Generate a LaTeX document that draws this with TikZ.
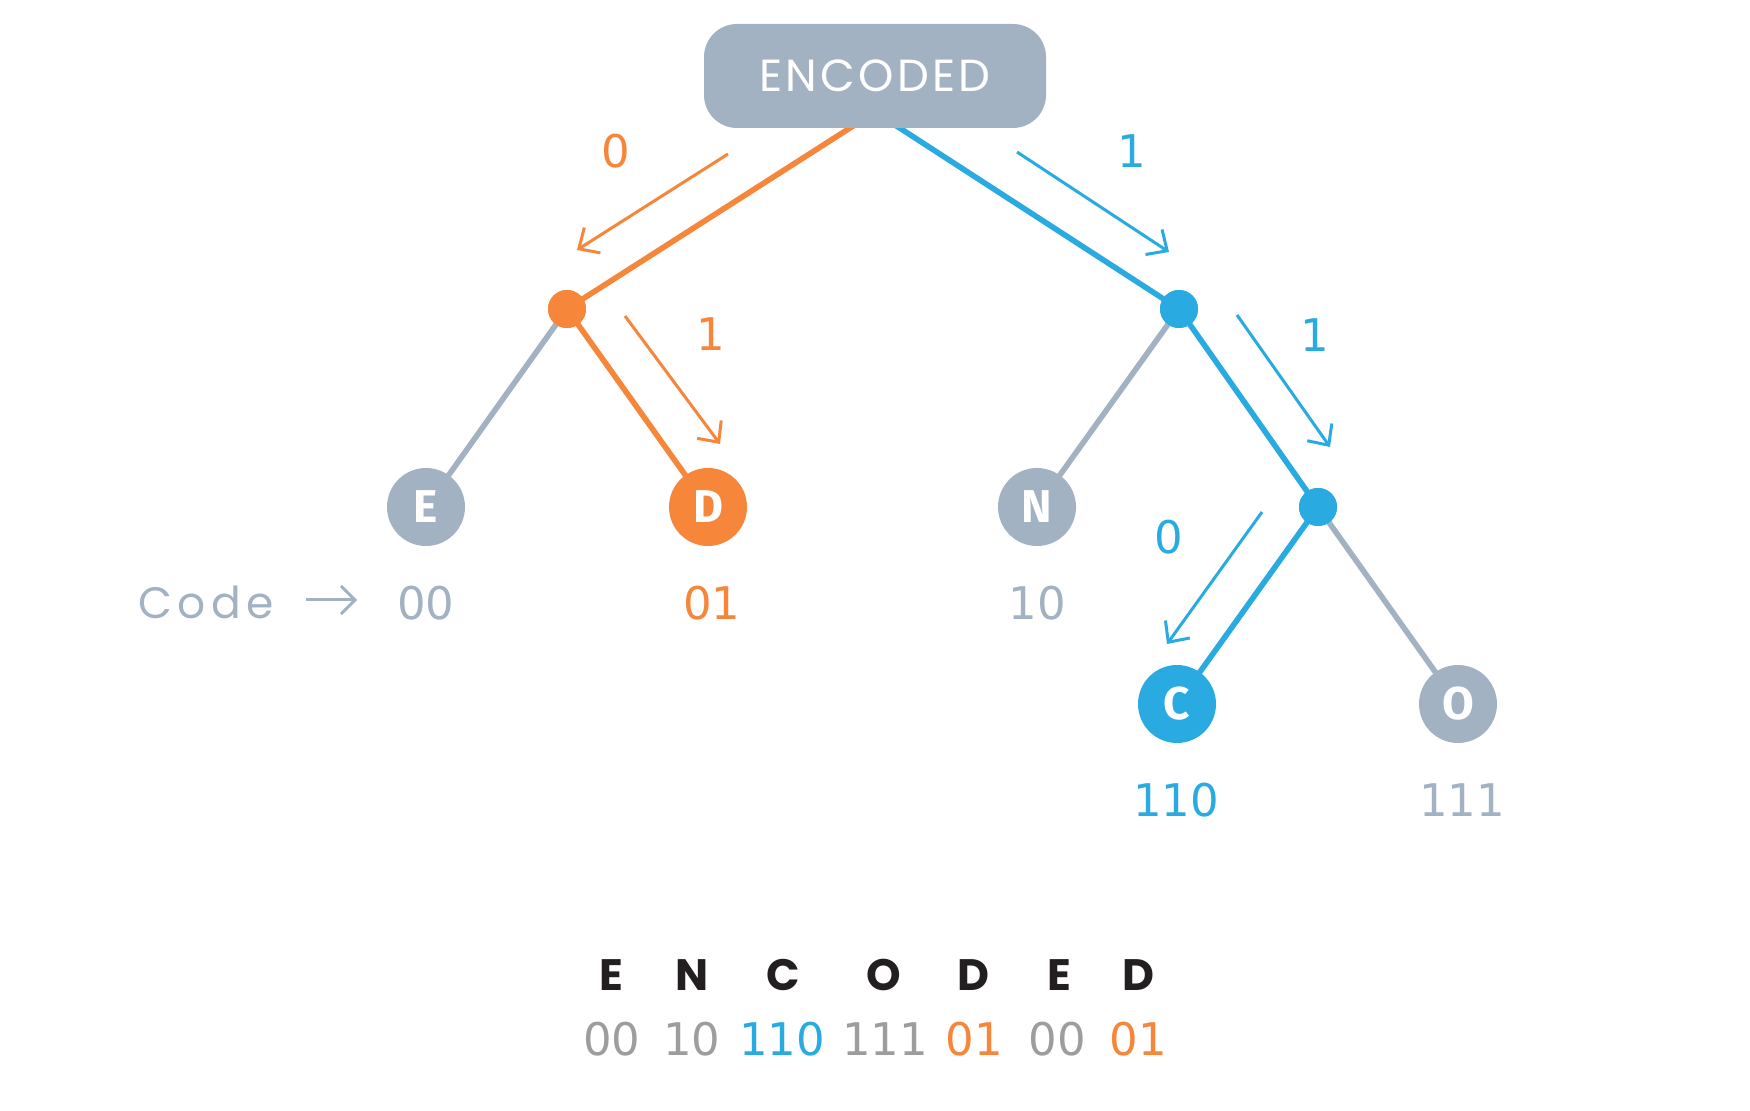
\documentclass[tikz,border=0pt]{standalone}
\usepackage{fontspec}
\setmainfont{Poppins}
\newfontfamily\digitfont{DejaVu Sans}
\newfontfamily\letterfont{Fira Sans}
\usetikzlibrary{arrows.meta}
\definecolor{cgray}{HTML}{A2B2C3}
\definecolor{corange}{HTML}{F5863A}
\definecolor{cblue}{HTML}{29ABE2}
\definecolor{cneutral}{HTML}{9D9D9D}
\definecolor{cdark}{HTML}{231F20}
\begin{document}
\begin{tikzpicture}[x=0.5pt,y=-0.5pt,
  leaf/.style={circle, minimum size=39pt, inner sep=0pt, text=white,
    font=\letterfont\bfseries\fontsize{23}{23}\selectfont},
  dot/.style={circle, minimum size=19pt, inner sep=0pt},
  edgeline/.style={line width=2.8pt},
  thinarrow/.style={line width=1.5pt, -{Straight Barb[length=8pt,width=15pt]}},
  codelbl/.style={font=\digitfont\fontsize{22.5}{22.5}\selectfont, inner sep=0pt},
  bitlbl/.style={font=\digitfont\fontsize{22.5}{22.5}\selectfont, inner sep=0pt},
  wordlbl/.style={font=\bfseries\fontsize{22}{22}\selectfont, text=cdark, inner sep=0pt},
]
\useasboundingbox (0,0) rectangle (1750,1111);

% positions
\coordinate (rj) at (875,112);
\node[dot, fill=corange] (L) at (567,309) {};
\node[dot, fill=cblue] (R) at (1179,309) {};
\node[dot, fill=cblue] (RR) at (1318,507) {};

% edges
\draw[edgeline, corange] (rj) -- (L.center);
\draw[edgeline, cblue] (rj) -- (R.center);
\draw[edgeline, cgray] (L.center) -- (426,507) coordinate (eE);
\draw[edgeline, corange] (L.center) -- (708,507) coordinate (eD);
\draw[edgeline, cgray] (R.center) -- (1037,507) coordinate (eN);
\draw[edgeline, cblue] (R.center) -- (RR.center);
\draw[edgeline, cblue] (RR.center) -- (1177,704) coordinate (eC);
\draw[edgeline, cgray] (RR.center) -- (1458,704) coordinate (eO);

% redraw dots on top
\node[dot, fill=corange] at (L) {};
\node[dot, fill=cblue] at (R) {};
\node[dot, fill=cblue] at (RR) {};

% root box
\node[fill=cgray, rounded corners=16.5pt, minimum width=171pt, minimum height=52pt,
  text=white, font=\fontsize{22.5}{22.5}\selectfont\addfontfeatures{LetterSpace=7}] (root) at (875,76) {ENCODED};

% leaves
\node[leaf, fill=cgray] (E) at (eE) {E};
\node[leaf, fill=corange] (D) at (eD) {D};
\node[leaf, fill=cgray] (N) at (eN) {N};
\node[leaf, fill=cblue] (C) at (eC) {C};
\node[leaf, fill=cgray] (O) at (eO) {O};

% direction arrows
\coordinate (a1s) at (728,154); \coordinate (a1e) at (577,250);
\draw[thinarrow, corange] (a1s) -- (a1e);
\node[bitlbl, text=corange] (b1) at (616,151) {0};
\coordinate (a2s) at (625,316); \coordinate (a2e) at (720,444);
\draw[thinarrow, corange] (a2s) -- (a2e);
\node[bitlbl, text=corange] (b2) at (711,334) {1};
\coordinate (a3s) at (1017,152); \coordinate (a3e) at (1169,252);
\draw[thinarrow, cblue] (a3s) -- (a3e);
\node[bitlbl, text=cblue] (b3) at (1132,151) {1};
\coordinate (a4s) at (1237,315); \coordinate (a4e) at (1330,447);
\draw[thinarrow, cblue] (a4s) -- (a4e);
\node[bitlbl, text=cblue] (b4) at (1315,335) {1};
\coordinate (a5s) at (1262,512); \coordinate (a5e) at (1167,644);
\draw[thinarrow, cblue] (a5s) -- (a5e);
\node[bitlbl, text=cblue] (b5) at (1169,537) {0};

% code labels
\node[font=\fontsize{22}{22}\selectfont\addfontfeatures{LetterSpace=12}, text=cgray, inner sep=0pt] (codeword) at (206,602) {Code};
\coordinate (cas) at (306,600); \coordinate (cae) at (357,600);
\draw[line width=1.5pt, cgray, -{Straight Barb[length=7pt,width=14pt]}] (cas) -- (cae);
\node[codelbl, text=cgray] (cE) at (426,603) {00};
\node[codelbl, text=corange] (cD) at (712,603) {01};
\node[codelbl, text=cgray] (cN) at (1037,603) {10};
\node[codelbl, text=cblue] (cC) at (1176,800) {110};
\node[codelbl, text=cgray] (cO) at (1462,800) {111};

% bottom word
\node[wordlbl] (w1) at (611,975) {E};
\node[wordlbl] (w2) at (692,975) {N};
\node[wordlbl] (w3) at (783,975) {C};
\node[wordlbl] (w4) at (884,975) {O};
\node[wordlbl] (w5) at (973,975) {D};
\node[wordlbl] (w6) at (1059,975) {E};
\node[wordlbl] (w7) at (1138,975) {D};

\node[codelbl, text=cneutral] (k1) at (612,1039) {00};
\node[codelbl, text=cneutral] (k2) at (692,1039) {10};
\node[codelbl, text=cblue] (k3) at (782,1039) {110};
\node[codelbl, text=cneutral] (k4) at (885,1039) {111};
\node[codelbl, text=corange] (k5) at (974,1039) {01};
\node[codelbl, text=cneutral] (k6) at (1057,1039) {00};
\node[codelbl, text=corange] (k7) at (1138,1039) {01};
\end{tikzpicture}
\end{document}
